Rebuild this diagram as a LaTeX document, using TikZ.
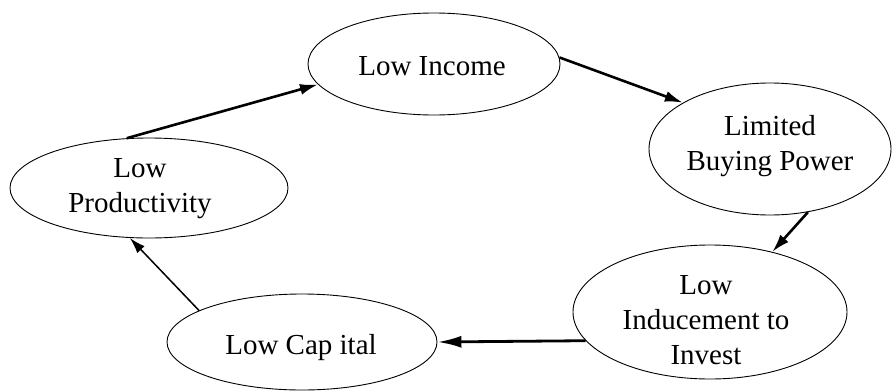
\documentclass[tikz,border=0pt]{standalone}
\usepackage{fontspec}
\setmainfont{Liberation Serif}
\usetikzlibrary{shapes.geometric,arrows.meta}
\begin{document}
\begin{tikzpicture}[x=1pt,y=-1pt,
  cyclebox/.style={draw,ellipse,line width=0.9pt,inner sep=0pt},
  caption/.style={inner sep=0pt,align=center,
    font=\fontsize{29}{35}\selectfont},
  flow/.style={line width=2.6pt,-{Latex[length=18pt,width=11pt]}},
  longflow/.style={line width=2.8pt,-{Latex[length=24pt,width=12pt]}},
  thinflow/.style={line width=1.5pt,-{Latex[length=16pt,width=10pt]}}]
  \useasboundingbox (0,0) rectangle (893,391);
  % the five stages of the cycle
  \node[cyclebox,minimum width=252pt,minimum height=102pt] (inc) at (434,64) {};
  \node[cyclebox,minimum width=242pt,minimum height=132pt] (buy) at (770,149) {};
  \node[cyclebox,minimum width=274pt,minimum height=134pt] (inv) at (710,312) {};
  \node[cyclebox,minimum width=270pt,minimum height=96pt] (cap) at (302,342) {};
  \node[cyclebox,minimum width=278pt,minimum height=100pt] (prod) at (149,188) {};
  % their captions
  \node[caption] (inctext) at (432,66) {Low Income};
  \node[caption] (buytext) at (770,146) {Limited\\Buying Power};
  \node[caption] (invtext) at (706,320) {Low\\Inducement to\\Invest};
  \node[caption] (captext) at (301,348) {Low Cap ital};
  \node[caption] (prodtext) at (140,189) {Low\\Productivity};
  % links between the stages
  \draw[flow] (inc.3) -- (buy.152);
  \draw[flow] (buy.-59) -- (inv.44);
  \draw[longflow] (inv.-167) -- (cap.0);
  \draw[thinflow] (cap.163) -- (prod.-111);
  \draw[flow] (prod.114) -- (inc.190);
\end{tikzpicture}
\end{document}
